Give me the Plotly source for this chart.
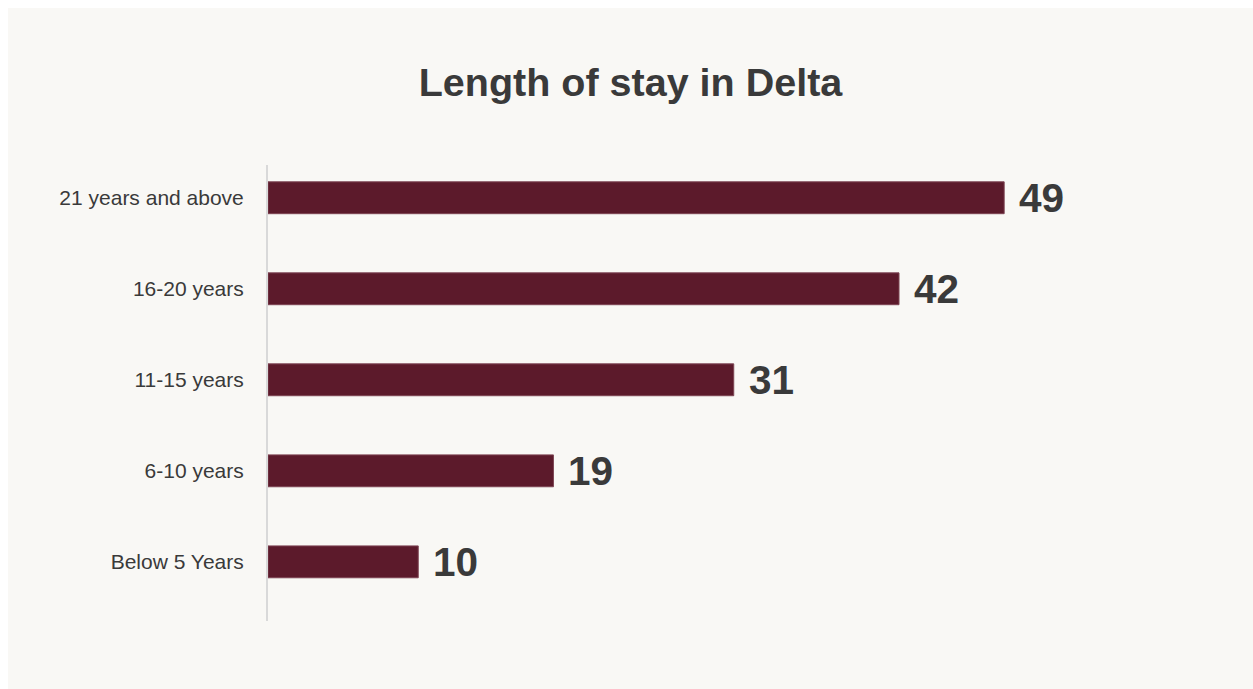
import plotly.graph_objects as go

categories = ["Below 5 Years", "6-10 years", "11-15 years", "16-20 years", "21 years and above"]
values = [10, 19, 31, 42, 49]
title_text = "Length of stay in Delta"

BG = "#f9f8f5"
BAR = "#5c1a2b"
TXT = "#3a3a3a"
FONT = "Liberation Sans, Arial, Helvetica, sans-serif"

fig = go.Figure()
fig.add_trace(go.Bar(
    x=values, y=categories, orientation="h",
    marker=dict(color=BAR, line=dict(color="#7d4453", width=1)),
    width=0.35, hoverinfo="skip",
))

for v, c in zip(values, categories):
    fig.add_annotation(x=v, y=c, xref="x", yref="y", text=f"<b>{v}</b>",
                       showarrow=False, xanchor="left", yanchor="middle",
                       xshift=13, yshift=0,
                       font=dict(family=FONT, size=40.5, color=TXT))

W, H = 1245, 681
fig.update_layout(
    width=W, height=H,
    paper_bgcolor=BG, plot_bgcolor=BG,
    margin=dict(l=260, r=40, t=157, b=68),
    title=dict(text=f"<b>{title_text}</b>", x=0.5, xanchor="center",
               xref="container", y=1 - 74 / H, yref="container", yanchor="middle",
               font=dict(family=FONT, size=39.5, color=TXT)),
    showlegend=False,
    xaxis=dict(range=[0, 62.9], visible=False, fixedrange=True),
    yaxis=dict(categoryorder="array", categoryarray=categories,
               range=[-0.65, 4.36], showline=True, linecolor="#d9d9d9", linewidth=2,
               showgrid=False, zeroline=False, ticks="", ticklabelstandoff=18,
               tickfont=dict(family=FONT, size=21, color=TXT), fixedrange=True),
)

fig.write_html(
    "out.html", config={"displayModeBar": False},
    post_script="document.body.style.margin='8px 0 0 8px';"
                "document.documentElement.style.overflow='hidden';"
                "document.body.style.overflow='hidden';",
)
